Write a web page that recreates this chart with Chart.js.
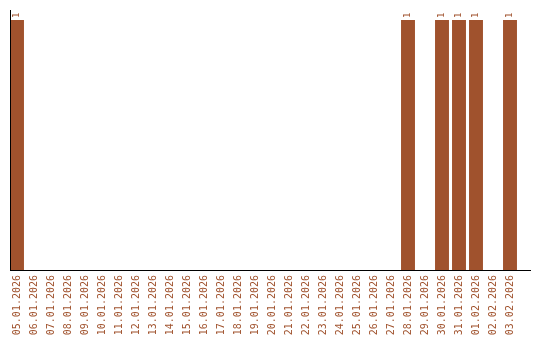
<!DOCTYPE html>
<html>
<head>
<meta charset="utf-8">
<script src="https://cdn.jsdelivr.net/npm/chart.js@4"></script>
<style>
    html, body { margin: 0; padding: 0; background: #fff; }
    #wrap { width: 540px; height: 340px; }
</style>
</head>
<body>
<div id="wrap"><canvas id="chart"></canvas></div>
<script>
const labels = [
    '05.01.2026', '06.01.2026', '07.01.2026', '08.01.2026', '09.01.2026',
    '10.01.2026', '11.01.2026', '12.01.2026', '13.01.2026', '14.01.2026',
    '15.01.2026', '16.01.2026', '17.01.2026', '18.01.2026', '19.01.2026',
    '20.01.2026', '21.01.2026', '22.01.2026', '23.01.2026', '24.01.2026',
    '25.01.2026', '26.01.2026', '27.01.2026', '28.01.2026', '29.01.2026',
    '30.01.2026', '31.01.2026', '01.02.2026', '02.02.2026', '03.02.2026'
];
const counts = [
    1, 0, 0, 0, 0, 0, 0, 0, 0, 0,
    0, 0, 0, 0, 0, 0, 0, 0, 0, 0,
    0, 0, 0, 1, 0, 1, 1, 1, 0, 1
];

const BROWN = '#a0522d';

// axis lines + rotated value labels
const decorations = {
    id: 'decorations',
    afterDatasetsDraw(chart) {
        const { ctx, chartArea } = chart;
        ctx.save();
        ctx.fillStyle = '#000';
        ctx.fillRect(10, chartArea.top, 1, chartArea.bottom - chartArea.top);
        ctx.fillRect(10, chartArea.bottom, 521, 1);

        ctx.fillStyle = BROWN;
        ctx.font = '9px "DejaVu Sans Mono"';
        ctx.textAlign = 'left';
        ctx.textBaseline = 'middle';
        chart.getDatasetMeta(0).data.forEach((bar, i) => {
            if (!counts[i]) return;
            ctx.save();
            ctx.translate(bar.x, bar.y - 2);
            ctx.rotate(-Math.PI / 2);
            ctx.fillText(String(counts[i]), 0, 0);
            ctx.restore();
        });
        ctx.restore();
    }
};

new Chart(document.getElementById('chart'), {
    type: 'bar',
    data: {
        labels: labels,
        datasets: [{
            data: counts,
            backgroundColor: BROWN,
            categoryPercentage: 1,
            barPercentage: 0.82
        }]
    },
    options: {
        responsive: true,
        maintainAspectRatio: false,
        animation: false,
        layout: { padding: { left: 8.5, right: 21.5, top: 10, bottom: 0 } },
        plugins: {
            legend: { display: false },
            tooltip: { enabled: false }
        },
        scales: {
            x: {
                grid: { display: false, drawTicks: false },
                border: { display: false },
                afterFit(scale) { scale.height = 70; },
                ticks: {
                    color: BROWN,
                    font: { family: '"DejaVu Sans Mono"', size: 10 },
                    padding: 5,
                    autoSkip: false,
                    minRotation: 90,
                    maxRotation: 90
                }
            },
            y: {
                display: false,
                min: 0,
                max: 1.04
            }
        }
    },
    plugins: [decorations]
});
</script>
</body>
</html>
